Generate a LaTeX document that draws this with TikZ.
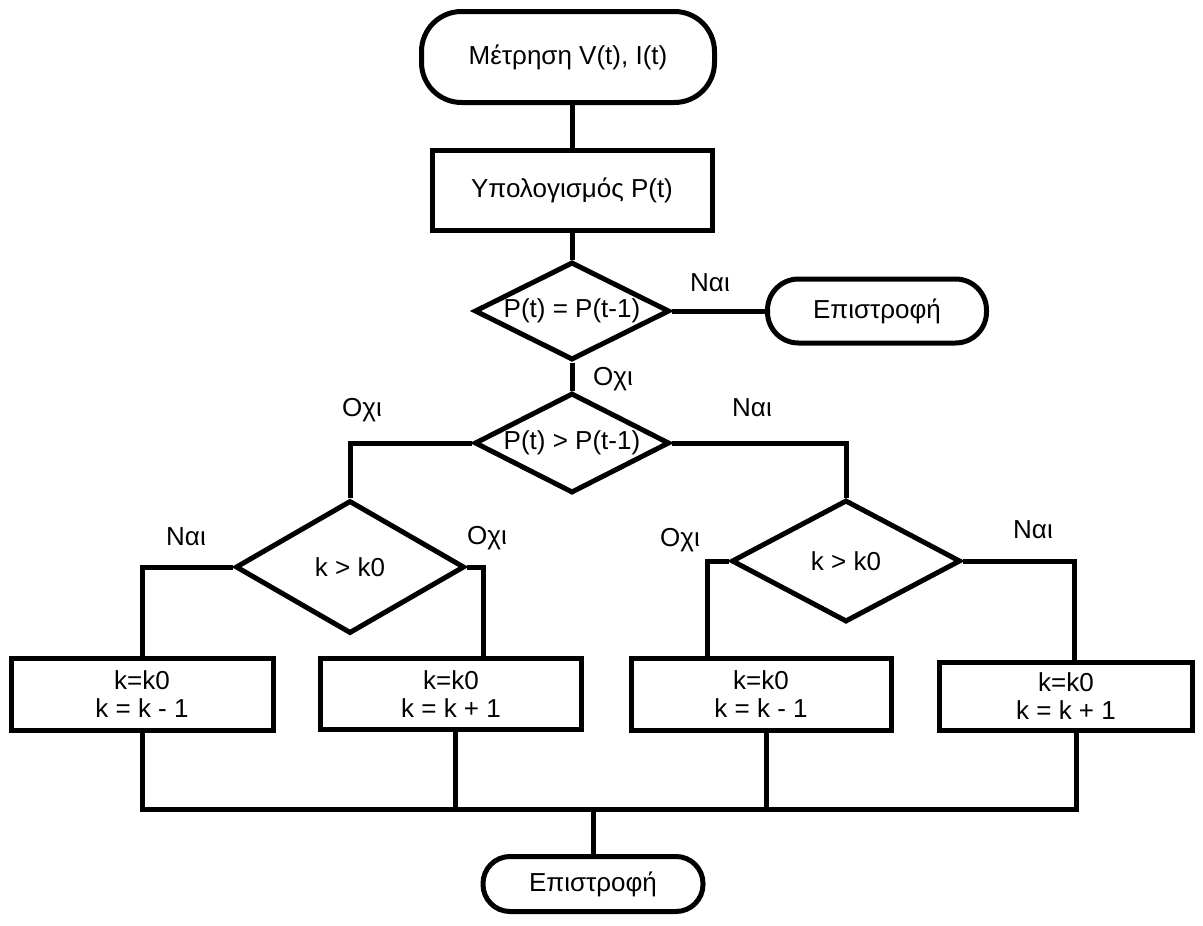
\documentclass[tikz,border=0pt]{standalone}
\usepackage{fontspec}
\setmainfont{Liberation Sans}
\usetikzlibrary{shapes.geometric}
\begin{document}
\begin{tikzpicture}[x=1pt,y=-1pt,
  every node/.style={font=\fontsize{26}{28}\selectfont},
  conn/.style={line width=5pt},
  term/.style={draw, line width=5pt, inner sep=0pt},
  proc/.style={draw, line width=5pt, rectangle, inner sep=0pt, align=center},
  dec/.style={draw, line width=5pt, diamond, inner sep=0pt},
  lbl/.style={inner sep=0pt}]
\useasboundingbox (0,0) rectangle (1203,926);
% nodes
\node[term, rounded corners=40pt, minimum width=293pt, minimum height=91pt] (start) at (568,57) {Μέτρηση V(t), I(t)};
\node[proc, minimum width=280pt, minimum height=80pt] (calc) at (572,190) {Υπολογισμός P(t)};
\node[dec, minimum width=195pt, minimum height=98pt, label={[lbl]center:P(t) = P(t-1)}] (d1) at (572,311) {};
\node[term, rounded corners=31pt, minimum width=219pt, minimum height=64pt] (ret1) at (877,311) {Επιστροφή};
\node[dec, minimum width=195pt, minimum height=100pt, label={[lbl]center:P(t) > P(t-1)}] (d2) at (572,443) {};
\node[dec, minimum width=229pt, minimum height=133pt, label={[lbl]center:k > k0}] (d3) at (350,567) {};
\node[dec, minimum width=229pt, minimum height=122pt, label={[lbl]center:k > k0}] (d4) at (846,561) {};
\node[proc, minimum width=262pt, minimum height=72pt] (b1) at (142,694) {k=k0\\k = k - 1};
\node[proc, minimum width=261pt, minimum height=71pt] (b2) at (451,694) {k=k0\\k = k + 1};
\node[proc, minimum width=260pt, minimum height=72pt] (b3) at (761,694) {k=k0\\k = k - 1};
\node[proc, minimum width=253pt, minimum height=68pt] (b4) at (1066,696) {k=k0\\k = k + 1};
\node[term, rounded corners=27pt, minimum width=220pt, minimum height=55pt] (ret2) at (593,884) {Επιστροφή};
\coordinate (bus) at (593,809);
% labels
\node[lbl] (l1) at (710,283) {Ναι};
\node[lbl] (l2) at (613,379) {Οχι};
\node[lbl] (l3) at (752,408) {Ναι};
\node[lbl] (l4) at (362,410) {Οχι};
\node[lbl] (l5) at (186,537) {Ναι};
\node[lbl] (l6) at (487,538) {Οχι};
\node[lbl] (l7) at (680,540) {Οχι};
\node[lbl] (l8) at (1033,530) {Ναι};
% connectors
\draw[conn] (calc.north) -- (calc.north |- start.south);
\draw[conn] (calc.south) -- (d1.north);
\draw[conn] (d1.east) -- (ret1.west);
\draw[conn] (d1.south) -- (d2.north);
\draw[conn] (d2.west) -| (d3.north);
\draw[conn] (d2.east) -| (d4.north);
\draw[conn] (d3.west) -| (b1.north);
\draw[conn] (d3.east) -- ++(16,0) coordinate (d3r) -- (d3r |- b2.north);
\draw[conn] (d4.west) -- ++(-22,0) coordinate (d4l) -- (d4l |- b3.north);
\draw[conn] (d4.east) -- ++(111,0) coordinate (d4r) -- (d4r |- b4.north);
\draw[conn] (b1.south) -- (b1.south |- bus) -- ([xshift=10pt]b4.south |- bus) -- ([xshift=10pt]b4.south);
\draw[conn] ([xshift=4pt]b2.south) -- ([xshift=4pt]b2.south |- bus);
\draw[conn] ([xshift=5pt]b3.south) -- ([xshift=5pt]b3.south |- bus);
\draw[conn] (bus) -- (ret2.north);
\end{tikzpicture}
\end{document}
